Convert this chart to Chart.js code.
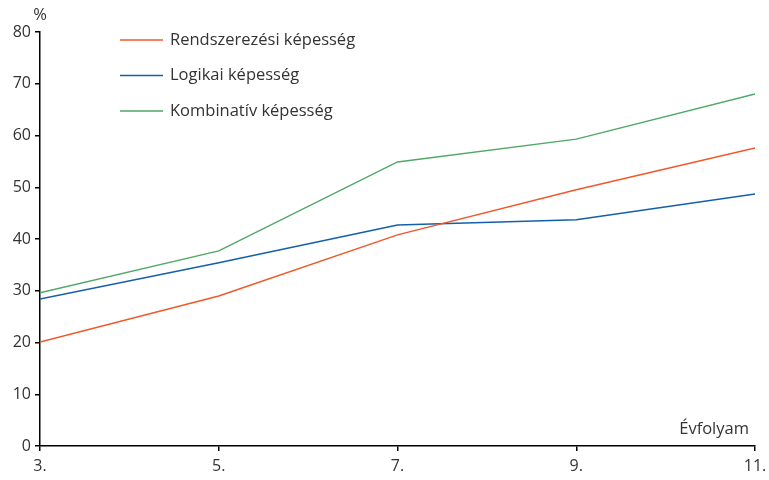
<!DOCTYPE html>
<html>
<head>
<meta charset="utf-8">
<script src="https://cdn.jsdelivr.net/npm/chart.js@4"></script>
<style>
  html, body { margin: 0; padding: 0; background: #fff; }
  #wrap { width: 769px; height: 480px; }
</style>
</head>
<body>
<div id="wrap"><canvas id="myChart"></canvas></div>
<script>
var evfolyam = [3, 5, 7, 9, 11];
var rendszerezesi = [20.1, 29.0, 40.8, 49.5, 57.6];
var logikai = [28.4, 35.4, 42.7, 43.7, 48.7];
var kombinativ = [29.6, 37.7, 54.9, 59.3, 68.0];
var seriesNames = ["Rendszerezési képesség", "Logikai képesség", "Kombinatív képesség"];
var lineColors = ["rgb(240, 88, 40)", "rgb(20, 95, 170)", "rgb(80, 168, 100)"];

var fontName = "'Open Sans', sans-serif";
var textColor = "#333";

function pts(values) {
  return values.map(function (v, i) { return { x: evfolyam[i], y: v }; });
}

// jelmagyarázat és tengelyfeliratok rajzolása
var extraText = {
  id: "extraText",
  afterDraw: function (chart) {
    var ctx = chart.ctx;
    var area = chart.chartArea;
    ctx.save();
    ctx.font = "16.5px " + fontName;
    ctx.fillStyle = textColor;
    ctx.textBaseline = "middle";
    chart.data.datasets.forEach(function (ds, i) {
      var y = 40 + i * 35.5;
      ctx.strokeStyle = ds.borderColor;
      ctx.lineWidth = 1.5;
      ctx.beginPath();
      ctx.moveTo(120, y);
      ctx.lineTo(163, y);
      ctx.stroke();
      ctx.textAlign = "left";
      ctx.fillText(ds.label, 170, y);
    });
    ctx.textAlign = "center";
    ctx.fillText("%", area.left, 15);
    ctx.textAlign = "right";
    ctx.fillText("Évfolyam", area.right - 6, area.bottom - 17);
    ctx.restore();
  }
};

new Chart("myChart", {
  type: "line",
  data: {
    datasets: [
      { label: seriesNames[0], data: pts(rendszerezesi), borderColor: lineColors[0] },
      { label: seriesNames[1], data: pts(logikai), borderColor: lineColors[1] },
      { label: seriesNames[2], data: pts(kombinativ), borderColor: lineColors[2] }
    ]
  },
  options: {
    responsive: true,
    maintainAspectRatio: false,
    animation: false,
    layout: { padding: { top: 32, right: 14, left: 0, bottom: 0 } },
    elements: {
      line: { borderWidth: 1.5, tension: 0 },
      point: { radius: 0 }
    },
    plugins: {
      legend: { display: false },
      title: { display: false },
      tooltip: { enabled: false }
    },
    scales: {
      x: {
        type: "linear",
        min: 3,
        max: 11,
        afterFit: function (s) { s.height = 34; s.paddingLeft = 0; s.paddingRight = 0; },
        border: { color: "#000", width: 1.5 },
        grid: { display: true, drawOnChartArea: false, color: "#000", tickLength: 5, lineWidth: 1.5 },
        ticks: {
          stepSize: 2,
          color: textColor,
          font: { family: fontName, size: 16 },
          padding: 6,
          callback: function (v) { return v + "."; }
        }
      },
      y: {
        min: 0,
        max: 80,
        afterFit: function (s) { s.width = 40; },
        border: { color: "#000", width: 1.5 },
        grid: { display: true, drawOnChartArea: false, color: "#000", tickLength: 5, lineWidth: 1.5 },
        ticks: {
          stepSize: 10,
          color: textColor,
          font: { family: fontName, size: 16 },
          padding: 4
        }
      }
    }
  },
  plugins: [extraText]
});
</script>
</body>
</html>
